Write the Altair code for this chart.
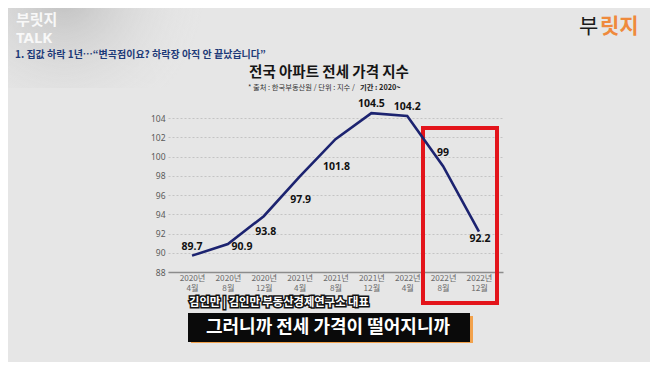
import altair as alt
import pandas as pd

# ---- data ----
periods = ["2020년 4월", "2020년 8월", "2020년 12월", "2021년 4월", "2021년 8월",
           "2021년 12월", "2022년 4월", "2022년 8월", "2022년 12월"]
index_values = [89.7, 90.9, 93.8, 97.9, 101.8, 104.5, 104.2, 99.0, 92.2]
value_labels = ["89.7", "90.9", "93.8", "97.9", "101.8", "104.5", "104.2", "99", "92.2"]
label_side = ["above", "right", "below1", "below2", "below3", "above", "above", "above2", "below0"]
y_ticks = [88, 90, 92, 94, 96, 98, 100, 102, 104]

title_text = "전국 아파트 전세 가격 지수"
source_text = "* 출처 : 한국부동산원 / 단위 : 지수 / "
period_text = "기간 : 2020~"
brand_text = "부릿지"
talk_text = "TALK"
headline_text = "1. 집값 하락 1년…\u201c변곡점이요? 하락장 아직 안 끝났습니다\u201d"
speaker_text = "김인만 | 김인만 부동산경제연구소 대표"
subtitle_text = "그러니까 전세 가격이 떨어지니까"

df = pd.DataFrame({"period": periods, "value": index_values,
                   "label": value_labels, "side": label_side})
one = pd.DataFrame({"k": [0]})

KR = "Noto Sans CJK KR"
NUM = "Noto Sans"

x_enc = alt.X("period:N", sort=periods,
              scale=alt.Scale(type="point", padding=0.67),
              axis=alt.Axis(title=None, labelAngle=0, ticks=False,
                            labelExpr="split(datum.label, ' ')",
                            domainColor="#8c8c8c", domainWidth=1.5,
                            labelColor="#6a6a6a", labelFontSize=8.2, labelFont=KR,
                            labelPadding=2, labelLineHeight=10, grid=False,
                            labelOverlap=False))
y_enc = alt.Y("value:Q",
              scale=alt.Scale(domain=[88, 104], nice=False, zero=False),
              axis=alt.Axis(title=None, values=y_ticks, domain=False, ticks=False,
                            labelColor="#5a5a5a", labelFontSize=8.5, labelFont=NUM,
                            labelPadding=3, gridColor="#c4c4c4", gridDash=[2, 2],
                            gridWidth=1, labelOverlap=False))

base = alt.Chart(df)

# darker paper patch behind the brand mark (top left)
patch = alt.Chart(one).mark_rect(
    color=alt.Gradient(gradient="radial", x1=0.2, y1=0.3, r1=0, x2=0.2, y2=0.3, r2=0.5,
                       stops=[alt.GradientStop(color="rgba(180,180,180,0.8)", offset=0),
                              alt.GradientStop(color="rgba(225,225,225,0)", offset=1)])
).encode(x=alt.value(-160), x2=alt.value(120), y=alt.value(-110), y2=alt.value(-30))

# highlight box
red_box = alt.Chart(one).mark_rect(fillOpacity=0, stroke="#e3141b", strokeWidth=4).encode(
    x=alt.value(255), x2=alt.value(329), y=alt.value(10), y2=alt.value(185))

line = base.mark_line(color="#1c2370", strokeWidth=2.6).encode(x=x_enc, y=y_enc)

offsets = {"above": (0, -9), "above2": (0, -13), "right": (14, 3), "below0": (1, 7),
           "below1": (2, 16), "below2": (1, 23), "below3": (1, 28)}
label_layers = []
for side, (dx, dy) in offsets.items():
    label_layers.append(
        base.transform_filter(alt.datum.side == side)
        .mark_text(font=NUM, fontSize=10.5, fontWeight="bold", color="#111111",
                   dx=dx, dy=dy, baseline="middle")
        .encode(x=x_enc, y=y_enc, text="label:N"))


def txt(text, x, y, **kw):
    return alt.Chart(one).mark_text(text=text, **kw).encode(x=alt.value(x), y=alt.value(y))


texts = [
    txt(title_text, 161, -45, font=KR, fontSize=14.5, fontWeight="bold", color="#151515"),
    txt(source_text, 80, -30, font=KR, fontSize=7.3, color="#333333", align="left"),
    txt(period_text, 192, -30, font=KR, fontSize=7.3, fontWeight="bold", color="#222222", align="left"),
    txt(brand_text, -152, -98, font=KR, fontSize=15, fontWeight="bold", color="#f8f8f8", align="left"),
    txt(talk_text, -152, -80, font=NUM, fontSize=15, fontWeight="bold", color="#f8f8f8", align="left"),
    txt(headline_text, -153, -63, font=KR, fontSize=10, fontWeight="bold", color="#1d3a78", align="left"),
    txt("부", 411, -91, font=KR, fontSize=21, color="#1a1a1a", align="left"),
    txt("릿지", 432, -91, font=KR, fontSize=21, fontWeight="bold", color="#ef8a3c", align="left"),
    txt(speaker_text, 21, 185, font=KR, fontSize=11.3, fontWeight="bold", color="#111111",
        align="left", stroke="#111111", strokeWidth=3),
    txt(speaker_text, 21, 185, font=KR, fontSize=11.3, fontWeight="bold", color="#ffffff", align="left"),
]

shadow = alt.Chart(one).mark_rect(color="#f2a24c").encode(
    x=alt.value(23), x2=alt.value(305), y=alt.value(198), y2=alt.value(225))
box = alt.Chart(one).mark_rect(color="#0a0a0a").encode(
    x=alt.value(20), x2=alt.value(302), y=alt.value(195), y2=alt.value(224))
box_text = txt(subtitle_text, 160, 210, font=KR, fontSize=18, fontWeight="bold", color="#ffffff")

chart = alt.layer(
    patch, red_box, line, *label_layers, *texts, shadow, box, box_text
).properties(
    width=335, height=154,
    padding={"left": 160, "top": 110, "right": 147, "bottom": 90},
    autosize=alt.AutoSizeParams(type="none"),
    background="#e6e6e6",
).configure_view(stroke=None)

chart.save("out.html", embed_options={"renderer": "svg", "actions": False})
